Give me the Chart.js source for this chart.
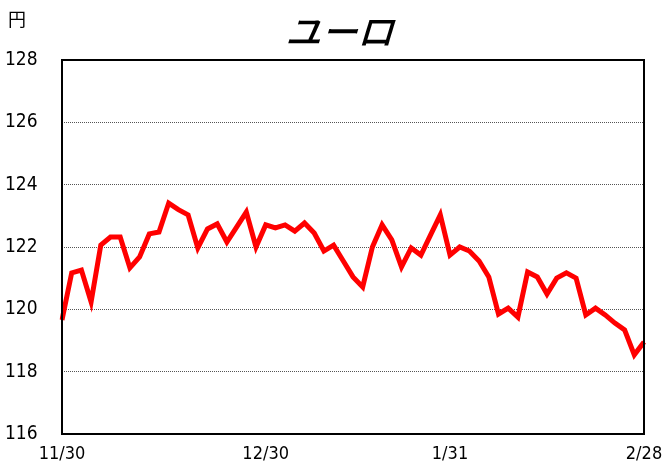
<!DOCTYPE html>
<html>
<head>
<meta charset="utf-8">
<script src="https://cdn.jsdelivr.net/npm/chart.js@4"></script>
<style>
  html, body { margin: 0; padding: 0; background: #fff; }
  #wrap { width: 662px; height: 470px; }
</style>
</head>
<body>
<div id="wrap"><canvas id="euroChart"></canvas></div>
<script>
// EUR/JPY closing rates, one per business day
const rates = [
    119.66, 121.17, 121.26, 120.24, 122.06, 122.32, 122.32, 121.33, 121.68, 122.42,
    122.48, 123.41, 123.20, 123.03, 121.97, 122.58, 122.74, 122.16, 122.64, 123.12,
    122.00, 122.71, 122.61, 122.71, 122.51, 122.77, 122.45, 121.87, 122.06, 121.55,
    121.04, 120.72, 122.00, 122.71, 122.23, 121.36, 121.97, 121.74, 122.39, 123.03,
    121.74, 122.00, 121.87, 121.55, 121.04, 119.85, 120.04, 119.75, 121.20, 121.04,
    120.49, 121.00, 121.17, 121.00, 119.82, 120.04, 119.82, 119.56, 119.34, 118.54,
    118.95
];
// which points get a date label on the x axis
const tickIndex = [0, 21, 40, 60];
const tickText = ['11/30', '12/30', '1/31', '2/28'];

const labels = rates.map(function (v, i) {
    const k = tickIndex.indexOf(i);
    return k >= 0 ? tickText[k] : '';
});

const fontFamily = '"Liberation Sans Narrow", "DejaVu Sans Condensed", "Liberation Sans", sans-serif';

// frame, title and unit label
const framePlugin = {
    id: 'frame',
    afterDraw: function (chart) {
        const c = chart.ctx;
        const a = chart.chartArea;
        c.save();
        c.strokeStyle = '#000';
        c.lineWidth = 2;
        c.strokeRect(a.left, a.top, a.right - a.left, a.bottom - a.top);

        c.fillStyle = '#000';
        c.textAlign = 'center';
        c.textBaseline = 'middle';
        // slanted title
        c.save();
        c.translate(343, 31);
        c.transform(1, 0, -0.3, 1, 0, 0);
        c.font = '500 36px "Noto Sans CJK JP", sans-serif';
        c.fillText('ユーロ', 0, 0);
        c.restore();

        c.textAlign = 'left';
        c.font = '18px "Noto Sans CJK JP", sans-serif';
        c.fillText('円', 8, 19);
        c.restore();
    }
};

new Chart(document.getElementById('euroChart'), {
    type: 'line',
    data: {
        labels: labels,
        datasets: [{
            data: rates,
            borderColor: '#ff0000',
            borderWidth: 5,
            pointRadius: 0,
            tension: 0,
            fill: false
        }]
    },
    options: {
        responsive: true,
        maintainAspectRatio: false,
        animation: false,
        layout: { padding: { left: 5, right: 18, top: 60, bottom: 0 } },
        plugins: {
            legend: { display: false },
            title: { display: false },
            tooltip: { enabled: false }
        },
        scales: {
            x: {
                offset: false,
                grid: { display: false, drawTicks: false },
                border: { display: false },
                ticks: {
                    autoSkip: false,
                    maxRotation: 0,
                    padding: 10,
                    color: '#000',
                    font: { family: fontFamily, size: 18 },
                    callback: function (value, index) {
                        return labels[index];
                    }
                },
                afterFit: function (scale) {
                    scale.height = 36;
                    scale.paddingLeft = 0;
                    scale.paddingRight = 0;
                }
            },
            y: {
                min: 116,
                max: 128,
                grid: { color: '#555', lineWidth: 1, drawTicks: false },
                border: { display: false, dash: [1, 1] },
                ticks: {
                    stepSize: 2,
                    color: '#000',
                    font: { family: fontFamily, size: 19 },
                    crossAlign: 'far',
                    padding: 0
                },
                afterFit: function (scale) { scale.width = 57; }
            }
        }
    },
    plugins: [framePlugin]
});
</script>
</body>
</html>
